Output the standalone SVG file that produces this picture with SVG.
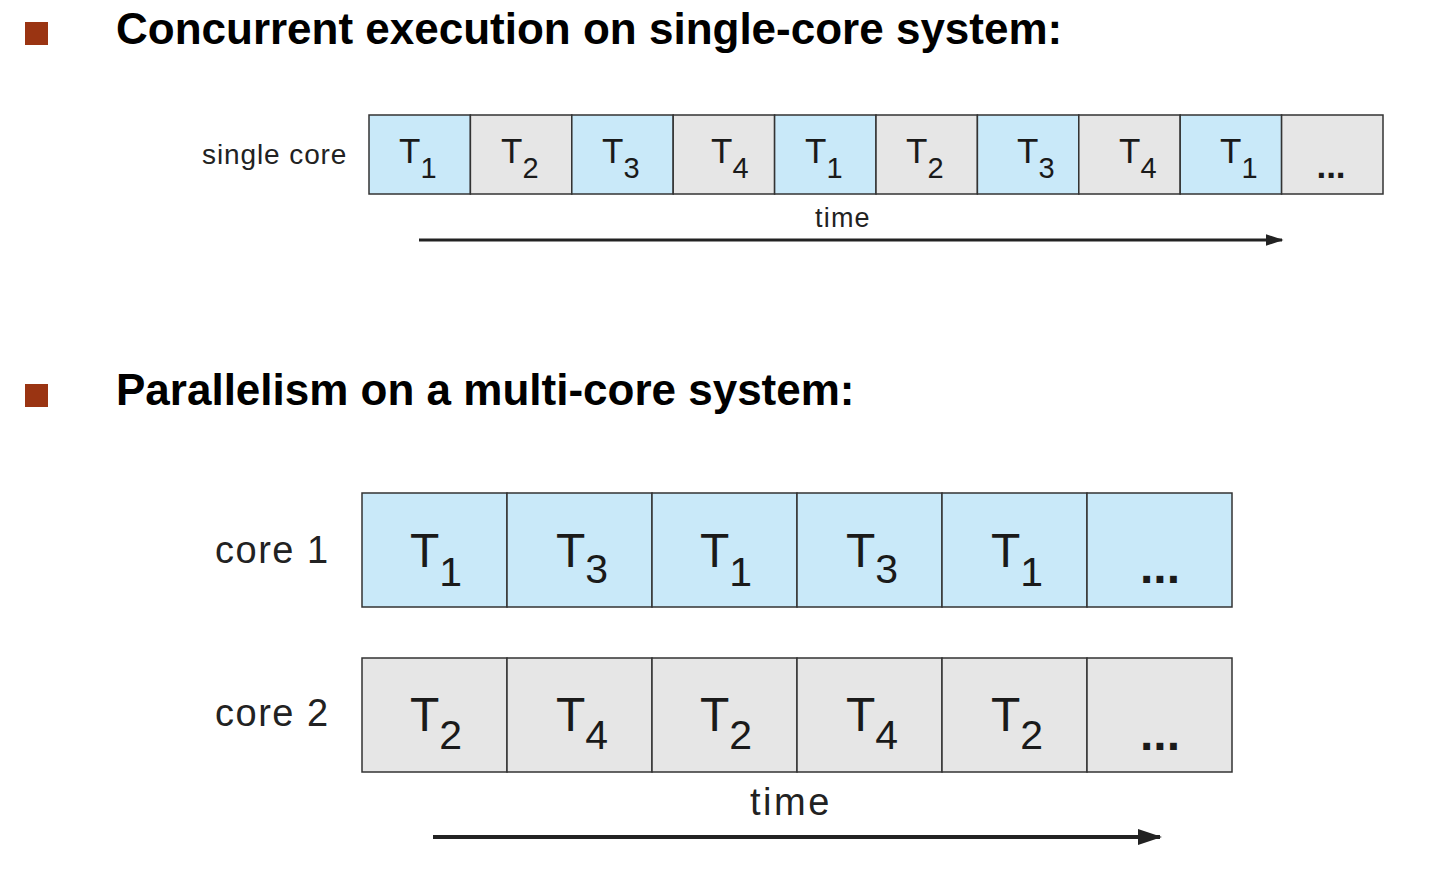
<svg xmlns="http://www.w3.org/2000/svg" width="1446" height="880" viewBox="0 0 1446 880">
<style>
.h{font-family:"Liberation Sans",Arial,sans-serif;font-weight:bold;font-size:44px;fill:#000}
.lab{font-family:"Liberation Sans",Arial,sans-serif;fill:#222}
.b{fill:#c9e9f9;stroke:#333;stroke-width:1.5}
.g{fill:#e6e6e6;stroke:#333;stroke-width:1.5}
.t1{font-family:"Liberation Sans",Arial,sans-serif;font-size:35px;fill:#1a1a1a}
.t1 .s{font-size:29px}
.t2{font-family:"Liberation Sans",Arial,sans-serif;font-size:48px;fill:#1a1a1a}
.t2 .s{font-size:41px}
.bul{fill:#9a3412}
</style>
<defs>
<marker id="ah" markerWidth="6" markerHeight="4" refX="5.5" refY="2" orient="auto" markerUnits="strokeWidth">
<path d="M0,0 L6,2 L0,4 Z" fill="#222"/>
</marker>
</defs>
<rect width="1446" height="880" fill="#fff"/>
<g id="heading1">
<rect class="bul" x="25" y="22" width="23" height="23"/>
<text class="h" x="116" y="44">Concurrent execution on single-core system:</text>
</g>
<g id="heading2">
<rect class="bul" x="25" y="384" width="23" height="23"/>
<text class="h" x="116" y="405">Parallelism on a multi-core system:</text>
</g>
<g id="single-core">
<text class="lab" x="202" y="164" font-size="28" letter-spacing="0.9">single core</text>
<rect class="b" x="369" y="115" width="101.4" height="79"/>
<rect class="g" x="470.4" y="115" width="101.4" height="79"/>
<rect class="b" x="571.8" y="115" width="101.4" height="79"/>
<rect class="g" x="673.2" y="115" width="101.4" height="79"/>
<rect class="b" x="774.6" y="115" width="101.4" height="79"/>
<rect class="g" x="876" y="115" width="101.4" height="79"/>
<rect class="b" x="977.4" y="115" width="101.4" height="79"/>
<rect class="g" x="1078.8" y="115" width="101.4" height="79"/>
<rect class="b" x="1180.2" y="115" width="101.4" height="79"/>
<rect class="g" x="1281.6" y="115" width="101.4" height="79"/>
<text class="t1" x="399" y="163">T<tspan class="s" dy="15">1</tspan></text>
<text class="t1" x="501" y="163">T<tspan class="s" dy="15">2</tspan></text>
<text class="t1" x="602" y="163">T<tspan class="s" dy="15">3</tspan></text>
<text class="t1" x="711" y="163">T<tspan class="s" dy="15">4</tspan></text>
<text class="t1" x="805" y="163">T<tspan class="s" dy="15">1</tspan></text>
<text class="t1" x="906" y="163">T<tspan class="s" dy="15">2</tspan></text>
<text class="t1" x="1017" y="163">T<tspan class="s" dy="15">3</tspan></text>
<text class="t1" x="1119" y="163">T<tspan class="s" dy="15">4</tspan></text>
<text class="t1" x="1220" y="163">T<tspan class="s" dy="15">1</tspan></text>
<text class="t1" x="1331" y="178" font-size="26" font-weight="bold" text-anchor="middle">...</text>
<text class="lab" x="815" y="227" font-size="27" letter-spacing="1.2">time</text>
</g>
<g id="core1">
<text class="lab" x="215" y="563" font-size="38" letter-spacing="1.5">core 1</text>
<rect class="b" x="362" y="493" width="145" height="114"/>
<rect class="b" x="507" y="493" width="145" height="114"/>
<rect class="b" x="652" y="493" width="145" height="114"/>
<rect class="b" x="797" y="493" width="145" height="114"/>
<rect class="b" x="942" y="493" width="145" height="114"/>
<rect class="b" x="1087" y="493" width="145" height="114"/>
<text class="t2" x="410" y="567">T<tspan class="s" dy="19">1</tspan></text>
<text class="t2" x="556" y="567">T<tspan class="s" dy="16">3</tspan></text>
<text class="t2" x="700" y="567">T<tspan class="s" dy="19">1</tspan></text>
<text class="t2" x="846" y="567">T<tspan class="s" dy="16">3</tspan></text>
<text class="t2" x="991" y="567">T<tspan class="s" dy="19">1</tspan></text>
<text class="t2" x="1160" y="583" font-size="36" font-weight="bold" text-anchor="middle">...</text>
</g>
<g id="core2">
<text class="lab" x="215" y="726" font-size="38" letter-spacing="1.5">core 2</text>
<rect class="g" x="362" y="658" width="145" height="114"/>
<rect class="g" x="507" y="658" width="145" height="114"/>
<rect class="g" x="652" y="658" width="145" height="114"/>
<rect class="g" x="797" y="658" width="145" height="114"/>
<rect class="g" x="942" y="658" width="145" height="114"/>
<rect class="g" x="1087" y="658" width="145" height="114"/>
<text class="t2" x="410" y="731">T<tspan class="s" dy="18">2</tspan></text>
<text class="t2" x="556" y="731">T<tspan class="s" dy="18">4</tspan></text>
<text class="t2" x="700" y="731">T<tspan class="s" dy="18">2</tspan></text>
<text class="t2" x="846" y="731">T<tspan class="s" dy="18">4</tspan></text>
<text class="t2" x="991" y="731">T<tspan class="s" dy="18">2</tspan></text>
<text class="t2" x="1160" y="750" font-size="36" font-weight="bold" text-anchor="middle">...</text>
<text class="lab" x="750" y="815" font-size="38" letter-spacing="2.5">time</text>
</g>
<g id="connectors">
<line x1="419" y1="240" x2="1282" y2="240" stroke="#222" stroke-width="3" marker-end="url(#ah)"/>
<line x1="433" y1="837" x2="1160" y2="837" stroke="#222" stroke-width="4" marker-end="url(#ah)"/>
</g>
</svg>
